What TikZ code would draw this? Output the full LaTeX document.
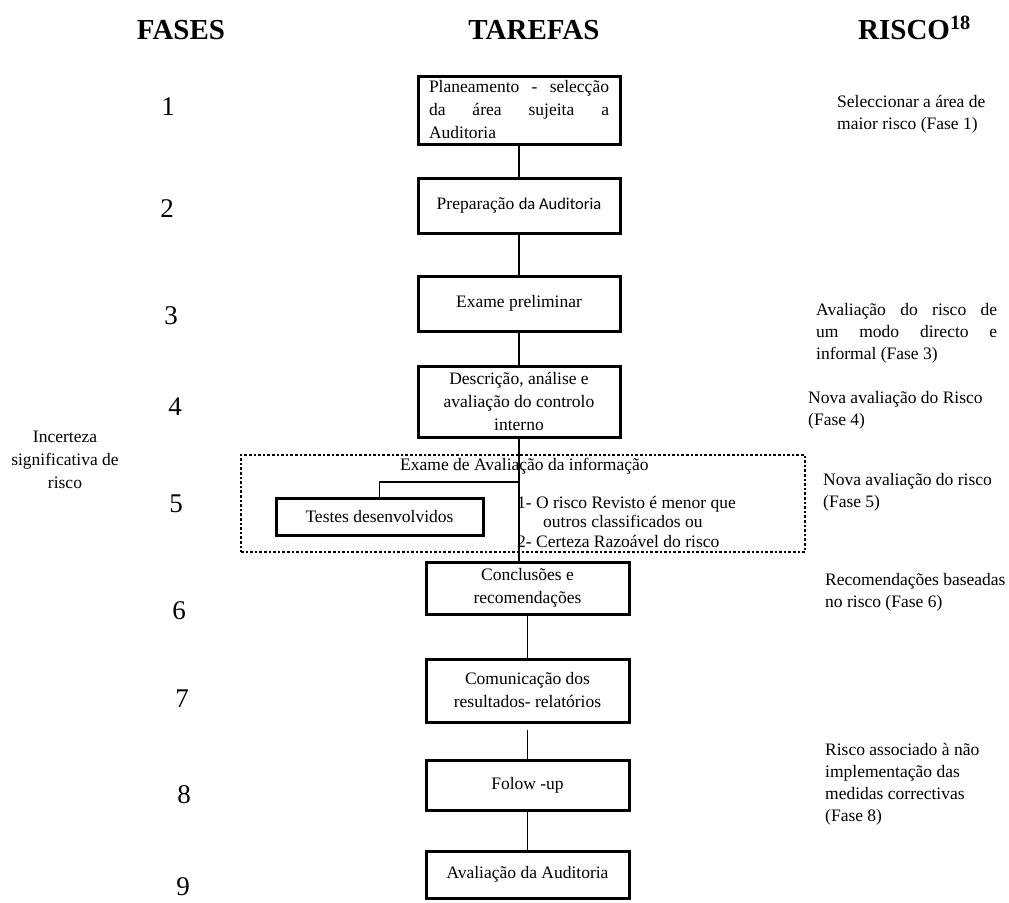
\documentclass[tikz,border=0pt]{standalone}
\usepackage{fontspec}
\setmainfont{Liberation Serif}
\newfontfamily\carlfont{Carlito}
\newcommand\bodyfnt{\fontsize{17.5}{23}\selectfont}
\newcommand\sidefnt{\fontsize{17.5}{22}\selectfont}
\newcommand\numfnt{\fontsize{27}{30}\selectfont}
\newcommand\headfnt{\fontsize{29}{32}\selectfont\bfseries}
\begin{document}
\begin{tikzpicture}[x=1pt,y=-1pt,
  box/.style={draw, line width=3pt, inner sep=0pt, align=center, font=\bodyfnt},
  conn/.style={line width=1.1pt},
  head/.style={inner sep=0pt, anchor=base, font=\headfnt},
  num/.style={inner sep=0pt, font=\numfnt},
  txt/.style={inner sep=0pt, font=\bodyfnt},
  side/.style={inner sep=0pt, anchor=north west, align=left, font=\sidefnt},
  dotbox/.style={draw, line width=2.8pt, dash pattern=on 2.6pt off 2pt, inner sep=0pt}]
\useasboundingbox (0,0) rectangle (1009,902);
% headings
\node[head] (hf) at (181,39) {FASES};
\node[head] (ht) at (534,39) {TAREFAS};
\node[head, anchor=base west] (hr) at (858,39) {RISCO\textsuperscript{18}};
% phase numbers
\node[num] (n1) at (168,107) {1};
\node[num] (n2) at (167,209) {2};
\node[num] (n3) at (171,316) {3};
\node[num] (n4) at (175,407) {4};
\node[num] (n5) at (176,504) {5};
\node[num] (n6) at (179,611) {6};
\node[num] (n7) at (182,699) {7};
\node[num] (n8) at (184,795) {8};
\node[num] (n9) at (183,887) {9};
% dotted zone
\node[dotbox, minimum width=564pt, minimum height=97pt] (dz) at (523,503.5) {};
% task boxes
\node[box, minimum width=202pt, minimum height=68pt, align=left] (b1) at (519,110)
  {\hbox to 180pt{Planeamento\hfill -\hfill selecção}\\\hbox to 180pt{da\hfill área\hfill sujeita\hfill a}\\\hbox to 180pt{Auditoria\hfill}};
\node[box, minimum width=202pt, minimum height=55pt] (b2) at (519,205.5) {Preparação {\carlfont\fontsize{16.5}{23}\selectfont da Auditoria}};
\node[box, minimum width=202pt, minimum height=55pt] (b3) at (519,303.5) {Exame preliminar};
\node[box, minimum width=202pt, minimum height=71pt] (b4) at (519,401.5) {Descrição, análise e\\avaliação do controlo\\interno};
\node[box, minimum width=207pt, minimum height=37pt] (tst) at (379.5,516.5) {Testes desenvolvidos};
\node[box, minimum width=203pt, minimum height=52pt] (b6) at (527.5,588) {Conclusões e\\recomendações};
\node[box, minimum width=203pt, minimum height=63pt] (b7) at (527.5,690.5) {Comunicação dos\\resultados- relatórios};
\node[box, minimum width=203pt, minimum height=50pt] (b8) at (527.5,785) {Folow -up};
\node[box, minimum width=203pt, minimum height=47pt] (b9) at (527.5,874.5) {Avaliação da Auditoria};
% connectors
\coordinate (j) at (519,482);
\coordinate (g) at (527.5,730);
\draw[conn] (b1) -- (b2);
\draw[conn] (b2) -- (b3);
\draw[conn] (b3) -- (b4);
\draw[conn] (b4.south) -- (b4.south |- b6.north);
\draw[conn] (tst.north) |- (j);
\draw[conn] (b6) -- (b7);
\draw[conn] (g) -- (b8.north);
\draw[conn] (b8) -- (b9);
% texts in dotted zone
\node[txt, anchor=base west] (ex) at (400,470) {Exame de Avaliação da informação};
\node[txt, anchor=base west] (l1) at (517,508) {1- O risco Revisto é menor que};
\node[txt, anchor=base west] (l2) at (543,527) {outros classificados ou};
\node[txt, anchor=base west] (l3) at (517,547) {2- Certeza Razoável do risco};
% left note
\node[inner sep=0pt, anchor=north, align=center, font=\fontsize{17.5}{23}\selectfont] (inc) at (65,431) {Incerteza\\significativa de\\risco};
% risk column
\node[side] (r1) at (837,95) {Seleccionar a área de\\maior risco (Fase 1)};
\node[side] (r3) at (816,303) {\hbox to 181pt{Avaliação\hfill do\hfill risco\hfill de}\\\hbox to 181pt{um\hfill modo\hfill directo\hfill e}\\informal (Fase 3)};
\node[side] (r4) at (808,391) {Nova avaliação do Risco\\(Fase 4)};
\node[side] (r5) at (823,473) {Nova avaliação do risco\\(Fase 5)};
\node[side] (r6) at (825,573) {Recomendações baseadas\\no risco (Fase 6)};
\node[side] (r8) at (825,743) {Risco associado à não\\implementação das\\medidas correctivas\\(Fase 8)};
\end{tikzpicture}
\end{document}
